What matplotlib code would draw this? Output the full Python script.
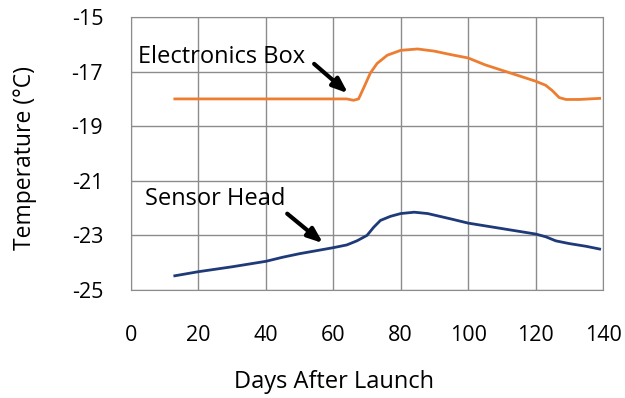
import matplotlib.pyplot as plt

plt.rcParams['font.family'] = ['Open Sans', 'DejaVu Sans']
plt.rcParams['axes.unicode_minus'] = False

box_days = [13, 30, 50, 64, 66, 67.5, 69, 71, 73, 76, 80, 85, 90, 95, 100, 105, 110,
            115, 120, 123, 125, 127, 129, 133, 139]
box_temp = [-18.0, -18.0, -18.0, -18.0, -18.05, -18.0, -17.6, -17.05, -16.7, -16.4,
            -16.22, -16.17, -16.25, -16.38, -16.5, -16.75, -16.95, -17.15, -17.35,
            -17.5, -17.7, -17.95, -18.02, -18.02, -17.98]

head_days = [13, 20, 30, 40, 45, 50, 60, 64, 67, 70, 72, 74, 77, 80, 84, 88, 95, 100,
             110, 120, 123, 126, 130, 135, 139]
head_temp = [-24.48, -24.33, -24.15, -23.95, -23.8, -23.67, -23.45, -23.35, -23.2, -23.0,
             -22.7, -22.45, -22.3, -22.2, -22.15, -22.2, -22.4, -22.55, -22.75, -22.95,
             -23.05, -23.2, -23.3, -23.4, -23.5]

xticks = [0, 20, 40, 60, 80, 100, 120, 140]
yticks = [-25, -23, -21, -19, -17, -15]

fig = plt.figure(figsize=(6.25, 3.98), dpi=100)
ax = fig.add_axes([0.2096, 0.2714, 0.7552, 0.6858])

ax.plot(box_days, box_temp, color="#ED7D31", lw=2)
ax.plot(head_days, head_temp, color="#1F3A78", lw=2)

ax.set_xlim(0, 140)
ax.set_ylim(-25, -15)
ax.set_xticks(xticks)
ax.set_yticks(yticks)
ax.tick_params(length=0, labelsize=15.5)
ax.tick_params(axis="y", pad=20)
ax.tick_params(axis="x", pad=25)
ax.grid(True, color="#8c8c8c", lw=1)
for s in ax.spines.values():
    s.set_color("#8c8c8c")

# the axis titles sit a bit off the axes centre in the original
ax.set_xlabel("Days After Launch", fontsize=17, va="center")
ax.xaxis.set_label_coords(0.43, -0.337)
ax.set_ylabel("Temperature (°C)", fontsize=16.5, va="center")
ax.yaxis.set_label_coords(-0.2246, 0.4835)

arrow = dict(arrowstyle="-|>,head_length=0.9,head_width=0.35", color="black", lw=3)
ax.text(2.1, -16.45, "Electronics Box", fontsize=17, va="center")
ax.annotate("", xy=(65, -17.86), xytext=(53.7, -16.65), arrowprops=arrow)
ax.text(4.2, -21.65, "Sensor Head", fontsize=17, va="center")
ax.annotate("", xy=(57.6, -23.35), xytext=(45.7, -22.14), arrowprops=arrow)

plt.savefig("out.png")
